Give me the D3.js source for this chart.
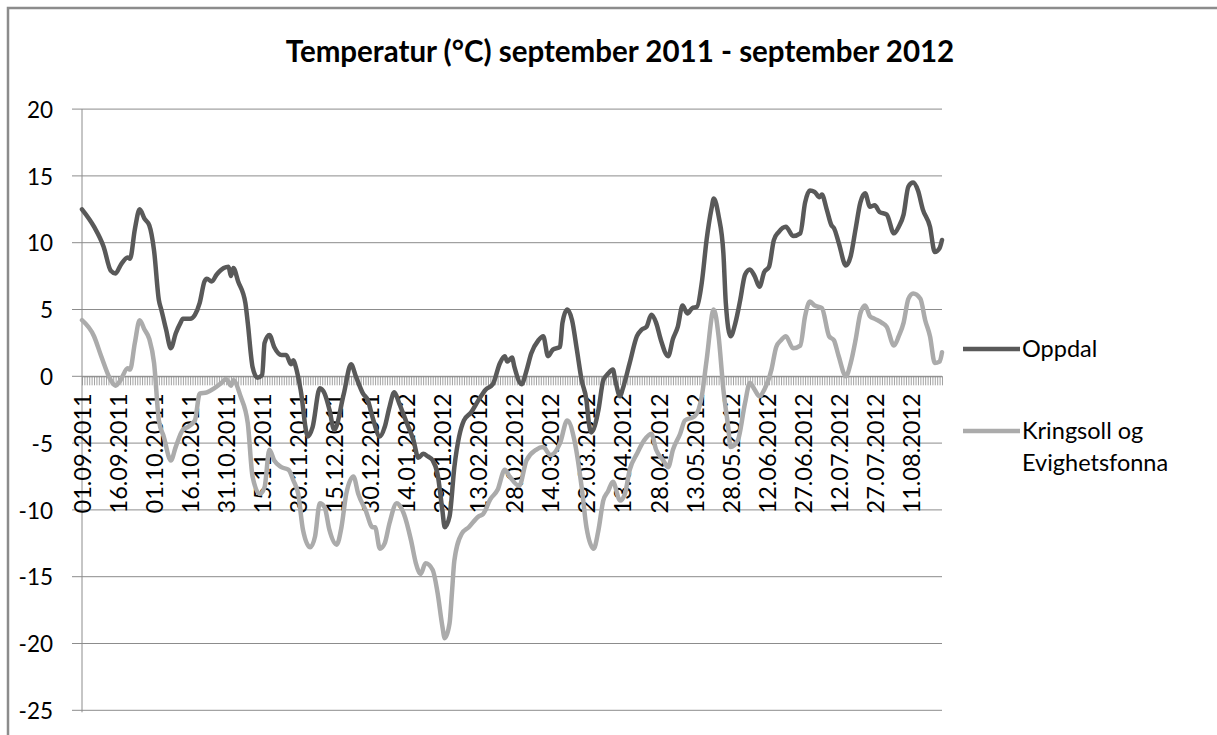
<!DOCTYPE html>
<meta charset="utf-8">
<style>
body { margin: 0; background: #fff; }
text { font-family: Lato, "Liberation Sans", sans-serif; fill: #000; }
.grid line { stroke: #8c8c8c; stroke-width: 1; }
.axis path, .axis line { stroke: #8c8c8c; }
.line { fill: none; stroke-width: 4.5; stroke-linejoin: round; stroke-linecap: round; }
</style>
<body>
<script src="https://d3js.org/d3.v7.min.js"></script>
<script>

// series: day offset from 01.09.2011 and temperature
var oppdalDay = [0,5,9,12,14,16,19,20,22,24,26,28,30,32,33,35,37,39,41,42,45,47,49,51,52,54,56,59,61,62,63,65,68,69,71,73,75,76,78,80,83,85,87,88,89,91,94,96,99,101,103,105,109,112,114,117,119,121,124,126,128,130,132,135,138,140,142,144,146,148,150,151,153,155,157,159,162,165,168,171,174,176,177,179,180,183,185,187,190,192,194,196,199,200,202,204,206,208,210,211,212,215,217,219,221,222,224,225,228,231,233,235,237,239,241,244,246,248,250,252,254,256,258,260,262,263,265,267,268,270,272,274,276,278,280,282,284,286,288,290,293,296,299,301,303,305,307,308,310,312,313,315,318,320,322,324,326,328,330,332,335,338,340,342,344,346,348,350,353,355,357,358];
var oppdalTemp = [12.5,11.2,9.7,7.9,7.7,8.3,8.9,8.8,11.0,12.5,11.8,11.3,9.4,5.7,5.0,3.5,2.1,3.2,4.0,4.3,4.3,4.6,5.5,7.1,7.3,7.1,7.6,8.1,8.2,7.5,8.1,7.1,5.5,4.0,0.7,-0.1,0.1,2.5,3.1,2.2,1.6,1.6,0.9,1.2,0.7,-1.0,-4.5,-3.8,-0.9,-1.3,-2.5,-4.0,-1.3,0.9,0.0,-1.3,-1.8,-3.1,-4.5,-3.8,-2.3,-1.2,-2.0,-3.4,-4.8,-6.1,-5.8,-6.0,-6.3,-7.3,-10.0,-11.3,-10.5,-6.8,-4.5,-3.3,-2.7,-1.8,-1.0,-0.6,1.0,1.5,1.1,1.4,0.7,-0.6,0.4,1.7,2.7,3.0,1.5,2.0,2.2,4.0,5.0,4.2,2.0,-0.3,-1.8,-3.5,-4.2,-2.5,-0.3,0.2,0.5,-0.3,-1.5,-1.0,1.0,3.0,3.5,3.7,4.6,4.0,2.7,1.5,2.8,3.7,5.3,4.7,5.1,5.2,7.0,10.2,12.5,13.3,12.0,9.2,5.5,3.0,4.0,5.7,7.6,8.0,7.5,6.7,7.8,8.2,10.2,10.8,11.2,10.5,10.7,13.0,13.9,13.8,13.4,13.6,12.5,11.3,11.1,10.0,8.3,9.0,11.0,13.0,13.7,12.7,12.8,12.3,12.1,10.7,11.2,12.1,14.2,14.5,13.9,12.5,11.2,9.3,9.6,10.2];

var kringDay = [0,5,8,12,14,16,19,20,22,24,26,28,30,32,34,37,39,42,44,47,49,52,55,58,60,62,63,66,69,71,74,76,78,80,83,86,88,90,92,95,97,99,101,103,106,108,110,113,115,118,121,122,124,126,128,131,134,137,139,141,143,146,148,150,151,153,154,155,158,161,165,167,170,173,176,178,182,185,189,192,195,199,202,205,208,210,213,215,217,219,221,224,226,228,231,234,237,239,242,244,246,249,251,255,258,260,263,265,267,269,270,273,276,278,280,282,284,287,289,291,293,296,299,301,303,305,308,311,313,315,318,320,322,324,326,328,330,333,335,338,340,342,344,346,349,351,353,355,357,358];
var kringTemp = [4.2,3.0,1.5,-0.3,-0.7,-0.3,0.6,0.5,2.5,4.2,3.5,2.8,1.0,-3.3,-4.5,-6.3,-5.3,-4.0,-3.8,-3.3,-1.3,-1.2,-0.9,-0.5,-0.2,-0.7,-0.3,-1.5,-3.5,-7.5,-8.8,-8.3,-5.5,-6.3,-6.8,-7.0,-7.8,-8.8,-11.5,-12.8,-12.0,-9.5,-9.8,-11.5,-12.6,-11.3,-8.8,-7.5,-8.8,-10.0,-11.3,-11.3,-12.9,-12.5,-11.0,-9.5,-10.3,-12.3,-14.0,-14.8,-14.0,-14.5,-16.2,-18.7,-19.6,-18.5,-16.2,-13.8,-11.8,-11.3,-10.5,-10.3,-9.2,-8.5,-7.0,-7.5,-8.2,-6.3,-5.5,-5.3,-5.9,-5.0,-3.3,-4.8,-8.3,-11.3,-12.9,-11.5,-9.3,-8.6,-7.9,-9.3,-8.8,-7.0,-5.8,-4.8,-4.3,-5.5,-6.3,-6.8,-5.5,-4.3,-3.3,-3.0,-1.5,1.2,5.0,3.0,-1.0,-3.8,-5.3,-4.8,-2.0,-0.5,-1.0,-1.5,-1.0,0.5,2.2,2.7,3.0,2.1,2.3,4.5,5.6,5.3,5.1,3.0,2.7,1.5,0.0,1.0,2.7,4.7,5.3,4.5,4.3,4.0,3.7,2.3,3.0,4.0,5.8,6.2,5.8,4.2,3.0,1.0,1.1,1.8];

var seriesNames = ["Oppdal", "Kringsoll og Evighetsfonna"];
var seriesColors = ["#595959", "#ababab"];

var dateLabels = ["01.09.2011","16.09.2011","01.10.2011","16.10.2011","31.10.2011","15.11.2011","30.11.2011","15.12.2011","30.12.2011","14.01.2012","29.01.2012","13.02.2012","28.02.2012","14.03.2012","29.03.2012","13.04.2012","28.04.2012","13.05.2012","28.05.2012","12.06.2012","27.06.2012","12.07.2012","27.07.2012","11.08.2012"];
var yTicks = [-25,-20,-15,-10,-5,0,5,10,15,20];

var W = 1217, H = 735;
var plotLeft = 82, plotRight = 942, plotTop = 109.1, plotBottom = 710.3;

// one category per day, 01.09.2011 - 24.08.2012
var fmt = d3.timeFormat("%d.%m.%Y");
var days = d3.timeDay.range(new Date(2011, 8, 1), new Date(2012, 7, 25)).map(fmt);

var x = d3.scalePoint().domain(days).range([plotLeft, plotRight]);
var y = d3.scaleLinear().domain([-25, 20]).range([plotBottom, plotTop]);

var svg = d3.select("body").append("svg")
    .attr("width", W)
    .attr("height", H);

// chart border
svg.append("rect")
    .attr("x", 8).attr("y", 8)
    .attr("width", W + 20).attr("height", H + 20)
    .attr("fill", "#fff")
    .attr("stroke", "#8c8c8c")
    .attr("stroke-width", 2.5);

// title
svg.append("text")
    .attr("x", 620).attr("y", 62)
    .attr("text-anchor", "middle")
    .style("font-size", "29.5px")
    .style("font-weight", "bold")
    .text("Temperatur (\u00b0C) september 2011 - september 2012");

// gridlines
svg.append("g").attr("class", "grid")
  .selectAll("line")
    .data(yTicks)
  .enter().append("line")
    .attr("x1", plotLeft - 10).attr("x2", plotRight)
    .attr("y1", function(d) { return y(d); })
    .attr("y2", function(d) { return y(d); });

// y axis
var yAxis = svg.append("g")
    .attr("class", "axis")
    .attr("transform", "translate(" + plotLeft + ",0)")
    .call(d3.axisLeft(y).tickValues(yTicks).tickSize(0).tickPadding(29)
        .tickFormat(function(d) { return String(d); }));
yAxis.select(".domain").attr("d", "M0," + plotTop + "V" + (plotBottom + 2));
yAxis.selectAll("text").style("font-size", "22.5px").attr("dy", "0.36em");

// category axis crossing at 0, tick every day
var xAxis = svg.append("g")
    .attr("class", "axis")
    .attr("transform", "translate(0," + y(0) + ")")
    .call(d3.axisBottom(x).tickSizeInner(9).tickSizeOuter(0)
        .tickFormat(function(d) { return dateLabels.indexOf(d) >= 0 ? d : ""; }));
xAxis.selectAll(".tick line").attr("stroke-width", 0.8);
xAxis.selectAll("text")
    .style("font-size", "23.5px")
    .attr("text-anchor", "end")
    .attr("transform", "rotate(-90)")
    .attr("x", -17)
    .attr("y", 0)
    .attr("dy", "0.36em");

// lines
function draw(dayArr, tempArr, color) {
  var pts = dayArr.map(function(d, i) { return [x(days[d]), y(tempArr[i])]; });
  svg.append("path")
      .datum(pts)
      .attr("class", "line")
      .attr("stroke", color)
      .attr("d", d3.line().curve(d3.curveMonotoneX));
}
draw(kringDay, kringTemp, seriesColors[1]);
draw(oppdalDay, oppdalTemp, seriesColors[0]);

// legend
var legendY = [349, 431];
seriesNames.forEach(function(name, i) {
  var g = svg.append("g");
  g.append("line")
      .attr("x1", 963).attr("x2", 1020)
      .attr("y1", legendY[i]).attr("y2", legendY[i])
      .attr("stroke", seriesColors[i])
      .attr("stroke-width", 4.5);
  var t = g.append("text")
      .attr("x", 1022).attr("y", legendY[i] + 8)
      .style("font-size", "23.5px");
  var words = i === 1 ? ["Kringsoll og", "Evighetsfonna"] : [name];
  words.forEach(function(w, k) {
    t.append("tspan").attr("x", 1022).attr("dy", k === 0 ? 0 : 32).text(w);
  });
});

</script>
</body>
